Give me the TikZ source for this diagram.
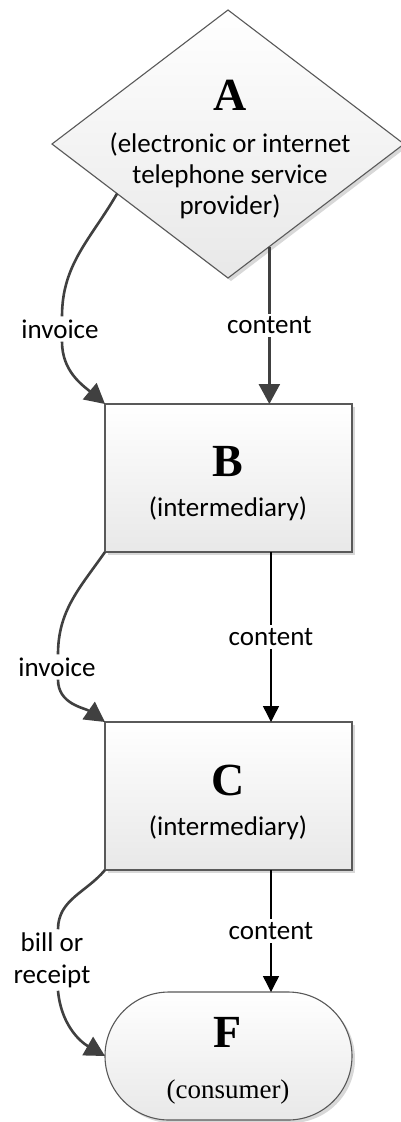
\documentclass[tikz,border=0pt]{standalone}
\usepackage{fontspec}
\setmainfont{Liberation Serif}
\newfontfamily\lblfont{Carlito}
\usetikzlibrary{arrows.meta,shapes.geometric,shapes.misc,shadows,calc}
\begin{document}
\begin{tikzpicture}[x=1pt,y=1pt,
  shapebox/.style={draw=black!65, line width=1.1pt, top color=white, bottom color=black!9,
    drop shadow={shadow xshift=3pt, shadow yshift=-3pt, fill=black!30, opacity=0.5},
    inner sep=0pt, outer sep=0pt},
  bigletter/.style={font=\fontsize{46}{46}\selectfont\bfseries, inner sep=0pt, anchor=base},
  desc/.style={font=\lblfont\fontsize{27}{32}\selectfont, inner sep=0pt, anchor=base, align=center},
  desctimes/.style={font=\fontsize{27}{32}\selectfont, inner sep=0pt, anchor=base},
  lab/.style={font=\lblfont\fontsize{27}{32}\selectfont, fill=white, inner sep=3pt, align=center},
  thickarr/.style={draw=black!75, line width=2.6pt, -{Triangle[length=20pt,width=21pt]}},
  thinarr/.style={draw=black, line width=1.4pt, -{Triangle[length=16pt,width=16pt]}},
  thickline/.style={draw=black!75, line width=2.6pt}
]
\useasboundingbox (0,0) rectangle (400,-1122);
\fill[white] (0,0) rectangle (400,-1122);

% shapes
\node[shapebox, diamond, minimum width=352pt, minimum height=268pt] (A) at (228,-144) {};
\node[shapebox, rectangle, minimum width=247pt, minimum height=148pt] (B) at (228.5,-478) {};
\node[shapebox, rectangle, minimum width=247pt, minimum height=148pt] (C) at (228.5,-796) {};
\node[shapebox, rounded rectangle, minimum width=247pt, minimum height=128pt] (F) at (228.5,-1056) {};

% texts
\node[bigletter] (At) at (230,-110) {A};
\node[desc] (Ad1) at (230,-152) {(electronic or internet};
\node[desc] (Ad2) at (230,-183) {telephone service};
\node[desc] (Ad3) at (230,-214) {provider)};
\node[bigletter] (Bt) at (228,-476) {B};
\node[desc] (Bd) at (228,-516) {(intermediary)};
\node[bigletter] (Ct) at (228,-795) {C};
\node[desc] (Cd) at (228,-835) {(intermediary)};
\node[bigletter] (Ft) at (228,-1047) {F};
\node[desctimes] (Fd) at (228,-1098) {(consumer)};

% content connectors
\coordinate (a1) at ($(A.south)!0.235!(A.east)$);
\draw[thickarr] (a1) -- node[lab, pos=0.5] (l1) {content} (a1 |- B.north);
\draw[thinarr] ([xshift=42.5pt]B.south) -- node[lab, pos=0.5] (l2) {content} ([xshift=42.5pt]C.north);
\draw[thinarr] ([xshift=42.5pt]C.south) -- node[lab, pos=0.5] (l3) {content} ([xshift=42.5pt]F.north);

% invoice / bill connectors
\coordinate (a2) at ($(A.west)!0.37!(A.south)$);
\node[lab] (i1) at (60,-329) {invoice};
\node[lab] (i2) at (57,-667) {invoice};
\node[lab] (i3) at (52,-960) {bill or\\receipt};
\draw[thickline] (a2) to[out=-120, in=90] (i1.north -| 62,0);
\draw[thickarr] (i1.south -| 62,0) to[out=-90, in=140] (B.north west);
\draw[thickline] (B.south west) to[out=-125, in=90] (i2.north -| 58,0);
\draw[thickarr] (i2.south -| 58,0) to[out=-90, in=145] (C.north west);
\draw[thickline] (C.south west) to[out=-130, in=90] (i3.north -| 58,0);
\draw[thickarr] (i3.south -| 58,0) to[out=-85, in=150] (F.west);
\end{tikzpicture}
\end{document}
